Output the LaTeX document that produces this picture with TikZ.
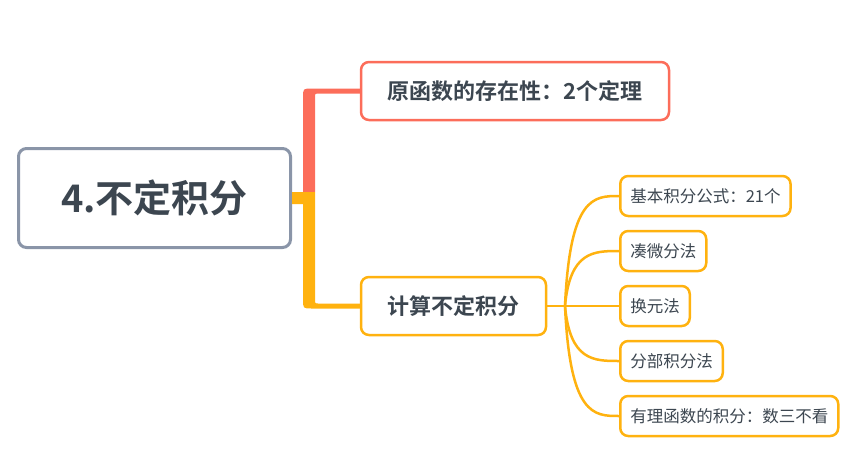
\documentclass[tikz,border=0pt]{standalone}
\usepackage{fontspec}
\usepackage{tikz}
\usetikzlibrary{positioning, calc}
\setmainfont{Noto Sans CJK SC}[BoldFont={Noto Sans CJK SC Bold}]
\definecolor{rootline}{HTML}{8A95A8}
\definecolor{redline}{HTML}{FC6D5A}
\definecolor{orangeline}{HTML}{FFB20F}
\definecolor{inktext}{HTML}{3C4650}

\begin{document}
\begin{tikzpicture}[x=1pt, y=-1pt, thick]
    % Define box styles locally
    \tikzstyle{topic} = [draw, rounded corners=8pt, text=inktext, fill=white, align=center, inner sep=0pt]
    \tikzstyle{root} = [topic, draw=rootline, line width=3pt, minimum width=272pt, minimum height=99pt, font=\fontsize{38}{40}\selectfont\bfseries]
    \tikzstyle{branch} = [topic, line width=2.5pt, minimum height=58pt, font=\fontsize{22}{24}\selectfont\bfseries]
    \tikzstyle{leaf} = [topic, draw=orangeline, line width=2.5pt, minimum height=40pt, inner xsep=10pt, anchor=west, font=\fontsize{16.5}{18}\selectfont]

    \useasboundingbox (0,0) rectangle (860,461);

    % Topics
    \node[root] (root) at (154.5,198) {4.不定积分};
    \node[branch, draw=redline, minimum width=308pt] (exist) at (515,91) {原函数的存在性：2个定理};
    \node[branch, draw=orangeline, minimum width=185pt] (calc) at (453.5,306) {计算不定积分};

    % Subtopics
    \node[leaf] (s1) at (619,196) {基本积分公式：21个};
    \node[leaf] (s2) at (619,251) {凑微分法};
    \node[leaf] (s3) at (619,306) {换元法};
    \node[leaf] (s4) at (619,361) {分部积分法};
    \node[leaf] (s5) at (619,416) {有理函数的积分：数三不看};

    % Branch lines (thick trunk tapering into thin line)
    \fill[redline] (303,192) -- (303,97.5) .. controls (303,88.5) .. (312,88.5)
        -- ($(exist.west)+(0,-2.5)$) -- ($(exist.west)+(0,2.5)$)
        -- (318,93.5) .. controls (315,93.5) .. (315,96.5) -- (315,192) -- cycle;
    \fill[orangeline] ($(root.east)+(0,-6)$) -- (315,192) -- (315,300.5) .. controls (315,303.5) .. (318,303.5)
        -- ($(calc.west)+(0,-2.5)$) -- ($(calc.west)+(0,2.5)$)
        -- (312,308.5) .. controls (303,308.5) .. (303,299.5) -- (303,204) -- ($(root.east)+(0,6)$) -- cycle;

    % Fan to subtopics
    \coordinate (hub) at (565,306);
    \draw[orangeline, line width=2.5pt] (calc.east) -- (hub);
    \foreach \i in {1,...,5}
        \draw[orangeline, line width=2.5pt] (hub) .. controls ($(hub |- s\i.west)+(5,0)$) and ($(s\i.west)+(-25,0)$) .. (s\i.west);

\end{tikzpicture}
\end{document}
